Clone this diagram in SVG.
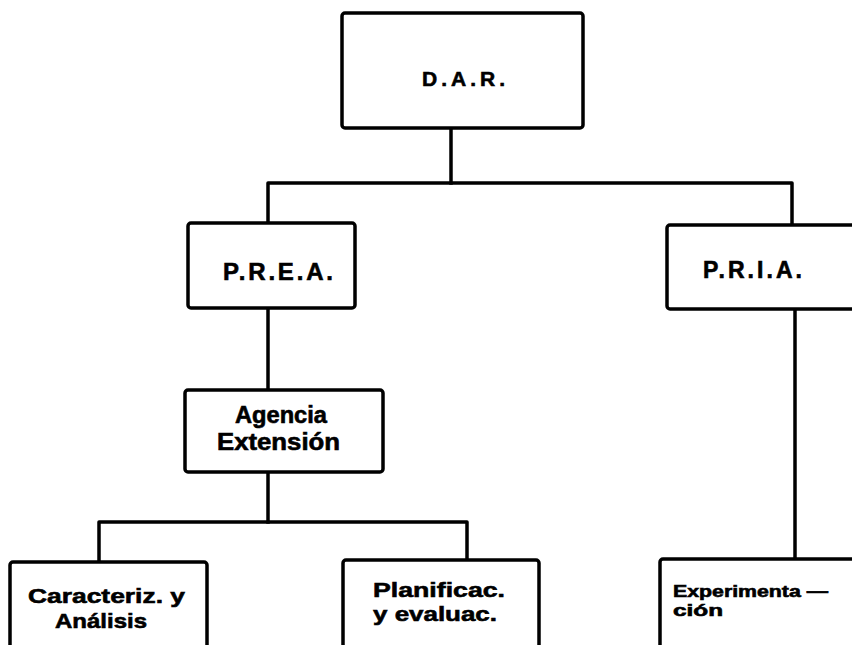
<svg xmlns="http://www.w3.org/2000/svg" width="852" height="645" viewBox="0 0 852 645">
  <style>
    .box { fill: #ffffff; stroke: #000000; stroke-width: 3.5; stroke-linejoin: round; }
    .wire { fill: none; stroke: #000000; stroke-width: 3.5; stroke-linejoin: round; stroke-linecap: square; }
    .lbl { font-family: "Liberation Sans", Arial, sans-serif; font-weight: bold; fill: #000000; stroke: #000000; stroke-width: 0.6; }
  </style>
  <rect x="0" y="0" width="852" height="645" fill="#ffffff"/>

  <!-- connectors -->
  <g id="connectors">
    <polyline class="wire" points="451,128 451,183"/>
    <polyline class="wire" points="268,223 268,183 792,183 792,225"/>
    <polyline class="wire" points="268,308 268,390"/>
    <polyline class="wire" points="268,472 268,522"/>
    <polyline class="wire" points="99,562 99,522 467,522 467,560"/>
    <polyline class="wire" points="795,309 795,559"/>
  </g>

  <g id="dar">
    <rect class="box" x="342" y="13" width="241" height="115" rx="3"/>
    <text class="lbl" x="422" y="86" font-size="21" textLength="83" lengthAdjust="spacing">D.A.R.</text>
  </g>

  <g id="prea">
    <rect class="box" x="188" y="223" width="167" height="85" rx="3"/>
    <text class="lbl" x="223" y="280" font-size="24" textLength="110" lengthAdjust="spacing">P.R.E.A.</text>
  </g>

  <g id="pria">
    <rect class="box" x="667" y="225" width="200" height="84" rx="3"/>
    <text class="lbl" x="703" y="278" font-size="23" textLength="99" lengthAdjust="spacing">P.R.I.A.</text>
  </g>

  <g id="agencia">
    <rect class="box" x="185" y="390" width="198" height="82" rx="3"/>
    <text class="lbl" x="235" y="423" font-size="23" textLength="92" lengthAdjust="spacingAndGlyphs">Agencia</text>
    <text class="lbl" x="217" y="450" font-size="23" textLength="123" lengthAdjust="spacingAndGlyphs">Extensión</text>
  </g>

  <g id="caracteriz">
    <rect class="box" x="10" y="562" width="197" height="100" rx="3"/>
    <text class="lbl" x="28" y="603" font-size="21" textLength="157" lengthAdjust="spacingAndGlyphs">Caracteriz. y</text>
    <text class="lbl" x="55" y="628" font-size="21" textLength="92" lengthAdjust="spacingAndGlyphs">Análisis</text>
  </g>

  <g id="planificac">
    <rect class="box" x="343" y="560" width="196" height="100" rx="3"/>
    <text class="lbl" x="373" y="597" font-size="21" textLength="132" lengthAdjust="spacingAndGlyphs">Planificac.</text>
    <text class="lbl" x="373" y="621" font-size="21" textLength="124" lengthAdjust="spacingAndGlyphs">y evaluac.</text>
  </g>

  <g id="experimentacion">
    <rect class="box" x="660" y="559" width="210" height="100" rx="3"/>
    <text class="lbl" x="673" y="597" font-size="16" textLength="155" lengthAdjust="spacingAndGlyphs">Experimenta —</text>
    <text class="lbl" x="673" y="616" font-size="16" textLength="50" lengthAdjust="spacingAndGlyphs">ción</text>
  </g>
</svg>
